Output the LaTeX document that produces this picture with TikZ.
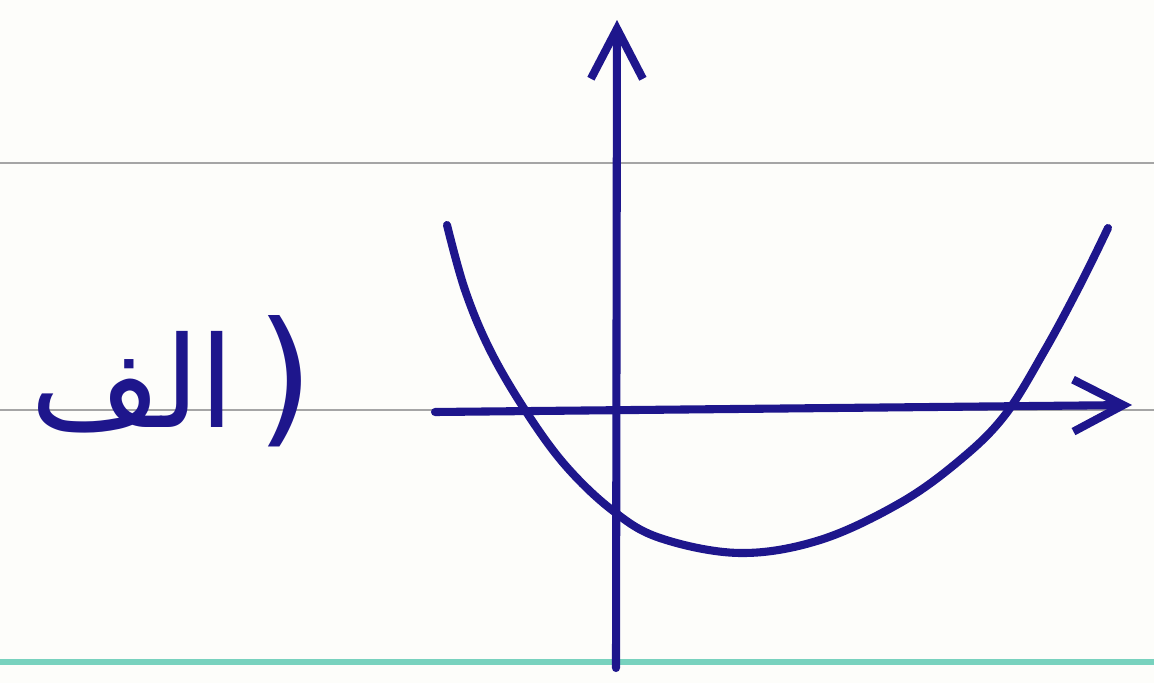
\documentclass[tikz,border=0pt]{standalone}
\usepackage{fontspec}
\newfontfamily\arabicfont[Script=Arabic]{DejaVu Sans}
\newfontfamily\parenfont{DejaVu Sans}
\TeXXeTstate=1
\usetikzlibrary{positioning,arrows.meta,calc}
\definecolor{ink}{RGB}{30,22,140}
\definecolor{paper}{RGB}{253,253,250}
\definecolor{ruling}{RGB}{165,165,165}
\definecolor{margin}{RGB}{120,210,190}
\tikzset{
  axis/.style={draw=ink, line width=2.3pt, line cap=round,
    -{Straight Barb[length=5mm,width=5.2mm,line width=2.3pt]}},
  curve/.style={draw=ink, line width=2.3pt, line cap=round},
  rule/.style={draw=ruling, line width=0.8pt},
  bottomrule/.style={draw=margin, line width=1.6pt}
}

\begin{document}
\begin{tikzpicture}
    \useasboundingbox[fill=paper] (0,0) rectangle (11.54,6.83);

    % ruled paper
    \coordinate (r1w) at (0,5.20);  \coordinate (r1e) at (11.54,5.20);
    \coordinate (r2w) at (0,2.73);  \coordinate (r2e) at (11.54,2.73);
    \coordinate (r3w) at (0,0.21);  \coordinate (r3e) at (11.54,0.21);
    \draw[rule] (r1w) -- (r1e);
    \draw[rule] (r2w) -- (r2e);
    \draw[bottomrule] (r3w) -- (r3e);

    % axes
    \coordinate (ybot) at (6.16,0.15);
    \coordinate (ytop) at (6.17,6.63);
    \coordinate (xleft) at (4.35,2.71);
    \coordinate (xright) at (11.32,2.78);
    \draw[axis] (ybot) -- (ytop);
    \draw[axis] (xleft) -- (xright);

    % parabola
    \draw[curve] plot[smooth, tension=0.6] coordinates {
      (4.47,4.58) (4.65,3.93) (4.90,3.33) (5.25,2.73) (5.65,2.18)
      (6.12,1.73) (6.60,1.45) (7.40,1.30) (8.20,1.43) (9.00,1.80)
      (9.60,2.23) (10.05,2.68) (10.45,3.33) (10.80,3.98) (11.08,4.55)};

    \node[text=ink, font=\fontsize{36}{40}\selectfont] (label) at (1.72,3.02)
      {{\arabicfont\beginR الف\endR}\,{\parenfont\fontsize{42}{46}\selectfont)}};
\end{tikzpicture}
\end{document}
